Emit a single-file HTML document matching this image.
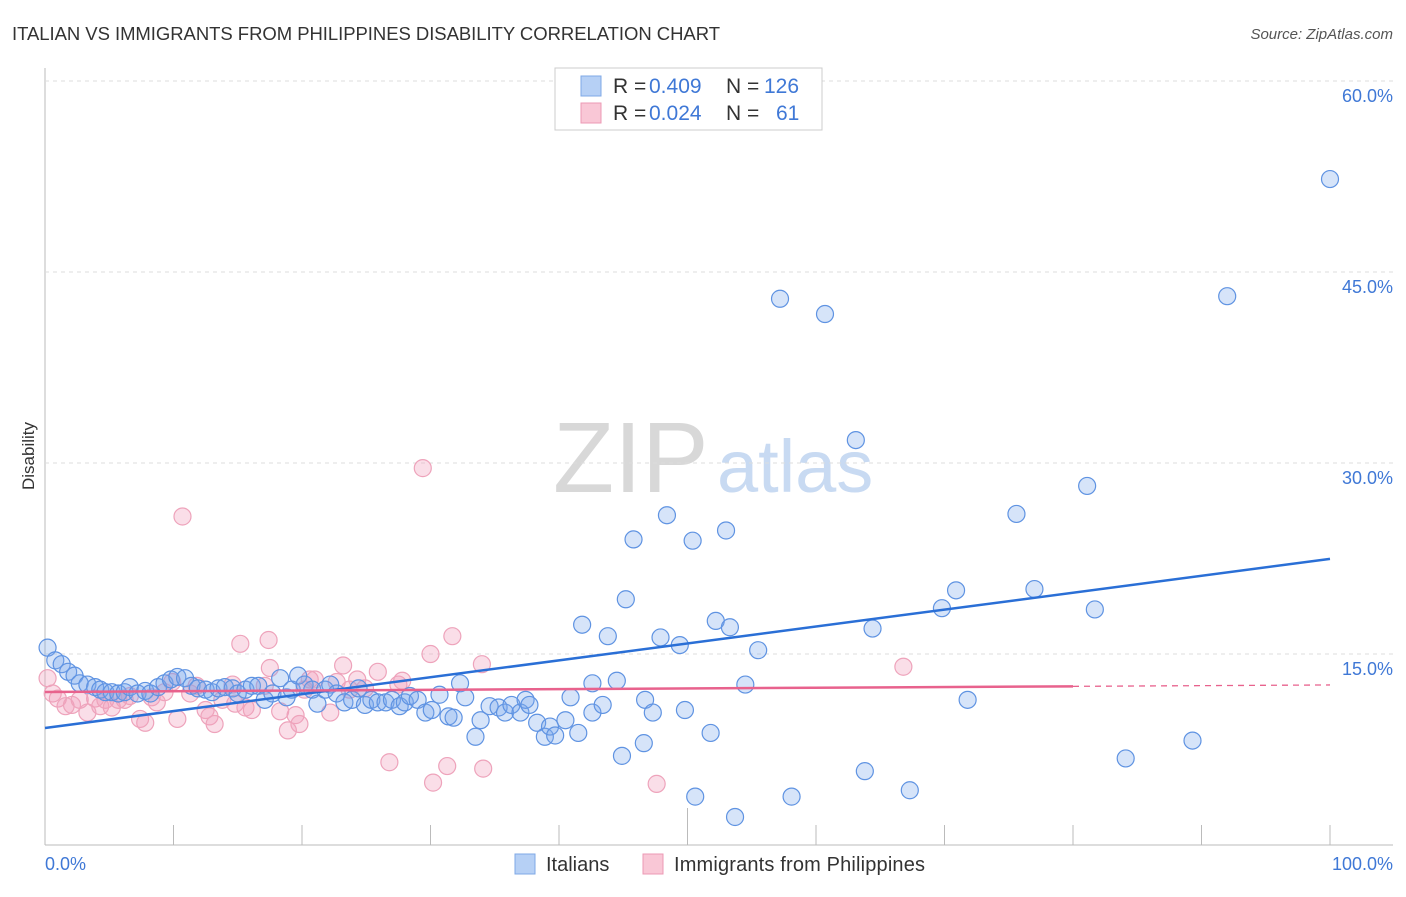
<!DOCTYPE html>
<html><head><meta charset="utf-8"><style>
body{margin:0;background:#fff;font-family:"Liberation Sans",sans-serif}
svg text{font-family:"Liberation Sans",sans-serif}
</style></head><body>
<svg id="chart" width="1406" height="892">
<text x="12" y="40" font-size="18.5" fill="#333" textLength="708">ITALIAN VS IMMIGRANTS FROM PHILIPPINES DISABILITY CORRELATION CHART</text>
<text x="1393" y="39" font-size="15" fill="#555" font-style="italic" text-anchor="end">Source: ZipAtlas.com</text>
<text x="34" y="456" font-size="17" fill="#333" text-anchor="middle" transform="rotate(-90 34 456)">Disability</text>
<g>
<text x="553" y="492" font-size="100" fill="#d8d8d8" font-family="Liberation Serif,serif">ZIP</text>
<text x="717" y="492" font-size="74" fill="#c8daf2">atlas</text>
</g>
<g id="grid"></g>
<g id="pts"></g>
<g id="trend"></g>
<g>
<rect x="555" y="68" width="267" height="62" fill="#fff" stroke="#ccc"/>
<rect x="581" y="76" width="20" height="20" fill="#b6d0f5" stroke="#7fa8e6"/>
<rect x="581" y="103" width="20" height="20" fill="#f9c7d6" stroke="#ec9ab4"/>
<text x="613" y="93" font-size="21" fill="#333">R =</text>
<text x="649" y="93" font-size="21" fill="#3f78d6">0.409</text>
<text x="726" y="93" font-size="21" fill="#333">N =</text>
<text x="764" y="93" font-size="21" fill="#3f78d6">126</text>
<text x="613" y="120" font-size="21" fill="#333">R =</text>
<text x="649" y="120" font-size="21" fill="#3f78d6">0.024</text>
<text x="726" y="120" font-size="21" fill="#333">N =</text>
<text x="776" y="120" font-size="21" fill="#3f78d6">61</text>
</g>
<g>
<rect x="515" y="854" width="20" height="20" fill="#b6d0f5" stroke="#7fa8e6"/>
<text x="546" y="871" font-size="20" fill="#333">Italians</text>
<rect x="643" y="854" width="20" height="20" fill="#f9c7d6" stroke="#ec9ab4"/>
<text x="674" y="871" font-size="20" fill="#333" textLength="251">Immigrants from Philippines</text>
</g>
</svg>
<script>
const yTicks=[15,30,45,60];
const yTickLabels=["15.0%","30.0%","45.0%","60.0%"];
const xTickLabels=["0.0%","100.0%"];
const italX=[0.2,0.8,1.3,1.8,2.3,2.7,3.3,3.9,4.3,4.7,5.2,5.7,6.2,6.6,7.2,7.8,8.2,8.8,9.3,9.8,10.3,10.9,11.4,11.9,12.5,13.0,13.5,14.0,14.6,15.0,15.6,16.1,16.6,17.1,17.7,18.3,18.8,19.2,19.7,20.2,20.8,21.2,21.8,22.2,22.7,23.3,23.9,24.4,24.9,25.4,25.9,26.5,27.0,27.6,28.0,28.4,29.0,29.6,30.1,30.7,31.4,31.8,32.3,32.7,33.5,33.9,34.6,35.3,35.8,36.3,37.0,37.4,37.7,38.3,38.9,39.3,39.7,40.5,40.9,41.5,41.8,42.6,42.6,43.4,43.8,44.5,44.9,45.2,45.8,46.6,46.7,47.3,47.9,48.4,49.4,49.8,50.4,50.6,51.8,52.2,53.0,53.3,53.7,54.5,55.5,57.2,58.1,60.7,63.1,63.8,64.4,67.3,69.8,70.9,71.8,75.6,77.0,81.1,81.7,84.1,89.3,92.0,100.0];
const italY=[15.5,14.5,14.2,13.6,13.3,12.7,12.6,12.4,12.2,12.0,12.0,11.9,12.0,12.4,11.9,12.1,11.9,12.4,12.7,13.0,13.2,13.1,12.5,12.3,12.2,12.0,12.3,12.4,12.3,11.9,12.2,12.5,12.5,11.4,11.9,13.1,11.6,12.2,13.3,12.6,12.2,11.1,12.2,12.6,11.9,11.2,11.4,12.3,11.0,11.4,11.2,11.2,11.4,10.9,11.2,11.7,11.4,10.4,10.6,11.8,10.1,10.0,12.7,11.6,8.5,9.8,10.9,10.8,10.4,11.0,10.4,11.4,11.0,9.6,8.5,9.3,8.6,9.8,11.6,8.8,17.3,12.7,10.4,11.0,16.4,12.9,7.0,19.3,24.0,8.0,11.4,10.4,16.3,25.9,15.7,10.6,23.9,3.8,8.8,17.6,24.7,17.1,2.2,12.6,15.3,42.9,3.8,41.7,31.8,5.8,17.0,4.3,18.6,20.0,11.4,26.0,20.1,28.2,18.5,6.8,8.2,43.1,52.3];
const philX=[0.2,0.6,1.0,1.6,2.1,2.7,3.3,3.9,4.3,4.7,5.2,5.7,6.2,6.6,7.4,7.8,8.3,8.7,9.3,9.9,10.3,10.7,11.3,11.8,12.5,12.8,13.2,13.8,14.6,14.8,15.2,15.6,16.1,17.1,17.4,17.5,18.3,18.9,19.5,19.8,20.2,20.6,21.0,22.2,22.7,23.2,23.7,24.3,24.9,25.9,26.8,27.5,27.8,29.4,30.0,30.2,31.3,31.7,34.0,34.1,47.6,66.8];
const philY=[13.1,11.9,11.5,10.9,11.0,11.4,10.4,11.5,10.9,11.4,10.8,11.4,11.4,11.7,9.9,9.6,11.6,11.2,12.0,12.8,9.9,25.8,11.9,12.5,10.6,10.1,9.5,11.4,12.6,11.1,15.8,10.8,10.6,12.5,16.1,13.9,10.5,9.0,10.2,9.5,12.2,13.0,13.0,10.4,12.8,14.1,12.2,13.0,12.3,13.6,6.5,12.6,12.9,29.6,15.0,4.9,6.2,16.4,14.2,6.0,4.8,14.0];
const italTrend=[9.19,22.47];
const philTrend=[12.02,12.57];
const philSolidEnd=80;
const X=v=>45+v*12.85, Y=v=>845-v*12.733;
const NS="http://www.w3.org/2000/svg";
function mk(t,a,p){const e=document.createElementNS(NS,t);for(const k in a)e.setAttribute(k,a[k]);p.appendChild(e);return e;}
const grid=document.getElementById('grid');
mk('line',{x1:45,y1:68,x2:45,y2:845,stroke:'#bbb'},grid);
mk('line',{x1:45,y1:845,x2:1393,y2:845,stroke:'#bbb'},grid);
yTicks.forEach((t,i)=>{
 const l=mk('line',{x1:45,y1:Y(t),x2:1393,y2:Y(t),stroke:'#ddd','stroke-dasharray':'4,4'},grid);
 
 
 const tx=mk('text',{x:1393,y:Y(t)+21,'font-size':18,fill:'#3f78d6','text-anchor':'end'},grid);
 tx.textContent=yTickLabels[i];
 
 
});
for(let k=1;k<=10;k++){const l=mk('line',{x1:X(k*10),y1:k==5?808:825,x2:X(k*10),y2:845,stroke:'#bbb'},grid);
 
 }
const t0=mk('text',{x:45,y:870,'font-size':18,fill:'#3f78d6'},grid);t0.textContent=xTickLabels[0];


const t1=mk('text',{x:1393,y:870,'font-size':18,fill:'#3f78d6','text-anchor':'end'},grid);t1.textContent=xTickLabels[1];


const pts=document.getElementById('pts');
philX.forEach((x,i)=>{const c=mk('circle',{cx:X(x),cy:Y(philY[i]),r:8.5,fill:'rgba(242,160,188,0.35)',stroke:'#eea3bb','stroke-width':1.2},pts);
 
 });
italX.forEach((x,i)=>{const c=mk('circle',{cx:X(x),cy:Y(italY[i]),r:8.5,fill:'rgba(120,165,235,0.3)',stroke:'#5f93e2','stroke-width':1.2},pts);
 
 });
const tr=document.getElementById('trend');
const b=mk('line',{x1:X(0),y1:Y(italTrend[0]),x2:X(100),y2:Y(italTrend[1]),stroke:'#2a6fd6','stroke-width':2.5},tr);


const pm=philTrend[0]+(philTrend[1]-philTrend[0])*philSolidEnd/100;
const p=mk('line',{x1:X(0),y1:Y(philTrend[0]),x2:X(philSolidEnd),y2:Y(pm),stroke:'#e8628d','stroke-width':2.5},tr);


const pd=mk('line',{x1:X(philSolidEnd),y1:Y(pm),x2:X(100),y2:Y(philTrend[1]),stroke:'#e8628d','stroke-width':1.3,'stroke-dasharray':'6,5'},tr);


</script>
</body></html>
